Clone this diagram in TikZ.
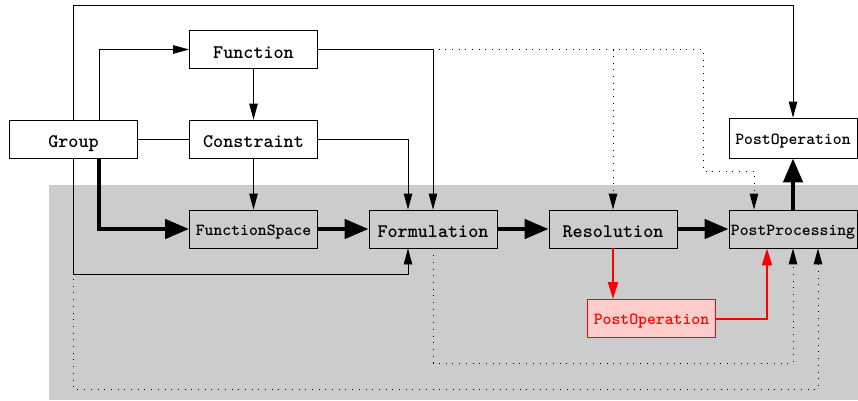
\documentclass[tikz,border=0pt]{standalone}
\usepackage{fontspec}
\usetikzlibrary{arrows.meta}
\definecolor{panelgray}{RGB}{204,204,204}
\definecolor{pinkfill}{RGB}{255,204,204}
\tikzset{
  box/.style={draw=black, line width=0.8pt, minimum width=128pt, minimum height=38pt,
    inner sep=0pt, text height=17pt, text depth=0pt,
    font=\fontsize{19.2}{20}\selectfont\ttfamily\bfseries},
  smallbox/.style={box, text height=12.5pt,
    font=\fontsize{16.9}{18}\selectfont\ttfamily\bfseries},
  thin/.style={line width=0.8pt, -{Triangle[length=16pt,width=8.5pt]}},
  plain/.style={line width=0.8pt},
  dots/.style={line width=1pt, dash pattern=on 1pt off 5.7pt, -{Triangle[length=16pt,width=8.5pt]}},
  heavy/.style={line width=4.5pt, -{Triangle[length=24pt,width=19pt]}},
  redline/.style={red, line width=2pt, -{Triangle[length=17pt,width=10pt]}},
}
\begin{document}
\begin{tikzpicture}[x=1pt,y=-1pt]
  \useasboundingbox (0,0) rectangle (858,400);
  % shaded processing panel
  \fill[panelgray] (49,185) rectangle (858,400);

  % nodes
  \node[box] (group) at (73.5,139) {Group};
  \node[box] (function) at (253.5,49.5) {Function};
  \node[box] (constraint) at (253.5,139) {Constraint};
  \node[smallbox] (fspace) at (253.5,229) {FunctionSpace};
  \node[box] (formulation) at (433,229) {Formulation};
  \node[box] (resolution) at (613,229) {Resolution};
  \node[smallbox] (postproc) at (793,229) {PostProcessing};
  \node[smallbox, minimum height=40pt] (postop) at (793,138) {PostOperation};
  \node[smallbox, draw=red, fill=pinkfill, text=red] (postopred) at (651.5,318.5) {PostOperation};

  % dotted dependencies
  \draw[dots] (function.east) -| (resolution.north);
  \draw[dots] (function.east) -- (703,49.5) -- (703,171) -| ([xshift=-39pt]postproc.north);
  \draw[dots] (formulation.south) -- (433,363) -| (postproc.south);
  \draw[dots] (group.south) -- (73.5,389) -| ([xshift=25pt]postproc.south);

  % thin links
  \draw[thin] (group.north) -- (73.5,5) -| (postop.north);
  \draw[thin] ([xshift=25.5pt]group.north) |- (function.west);
  \draw[plain] (group.east) -- (constraint.west);
  \draw[thin] (function.south) -- (constraint.north);
  \draw[thin] (constraint.south) -- (fspace.north);
  \draw[thin] (function.east) -| (formulation.north);
  \draw[thin] (constraint.east) -| ([xshift=-25pt]formulation.north);
  \draw[thin] (group.south) -- (73.5,274) -| ([xshift=-25pt]formulation.south);

  % main chain
  \draw[heavy] ([xshift=25.5pt]group.south) |- (fspace.west);
  \draw[heavy] (fspace.east) -- (formulation.west);
  \draw[heavy] (formulation.east) -- (resolution.west);
  \draw[heavy] (resolution.east) -- (postproc.west);
  \draw[heavy] (postproc.north) -- (postop.south);

  % red branch
  \draw[redline] (resolution.south) -- (resolution.south |- postopred.north);
  \draw[redline] (postopred.east) -| ([xshift=-26pt]postproc.south);
\end{tikzpicture}
\end{document}
